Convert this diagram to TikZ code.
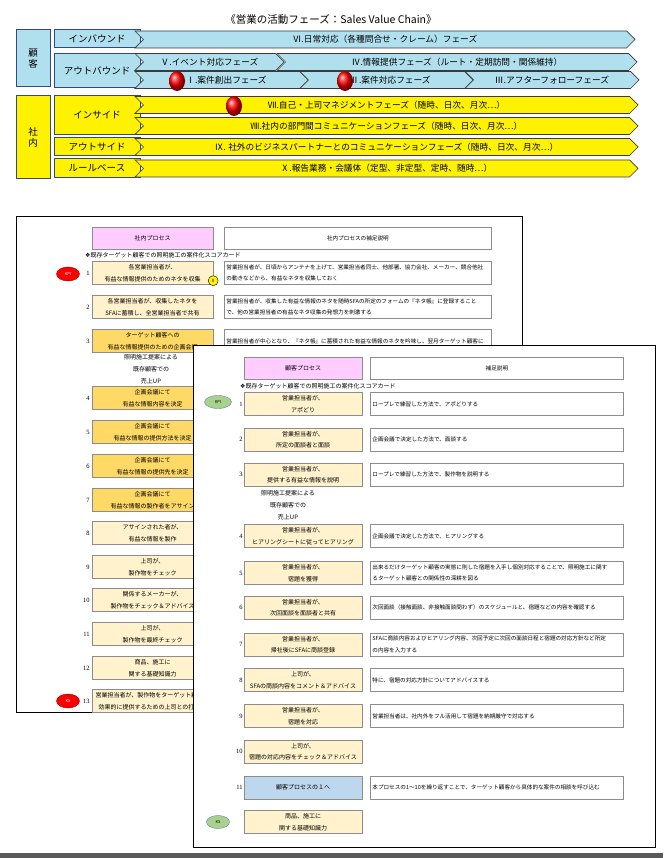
\documentclass[tikz,border=0pt]{standalone}
\usepackage{fontspec}
\setmainfont{Noto Sans CJK JP}
\newfontfamily\symfont{DejaVu Sans}
\newfontfamily\numfont{Liberation Serif}
\usepackage{tikz}
\usetikzlibrary{shapes.symbols, shapes.geometric, positioning, shadings}

\definecolor{skyfill}{HTML}{B0DFEE}
\definecolor{navyline}{HTML}{2E4A8C}
\definecolor{chevline}{HTML}{3A3A3A}
\definecolor{lightproc}{HTML}{FFF2CC}
\definecolor{orangeproc}{HTML}{FFD966}
\definecolor{pinkhead}{HTML}{FFCCFF}
\definecolor{blueproc}{HTML}{BDD7EE}
\definecolor{kpigreen}{HTML}{A9D18E}
\definecolor{boxline}{HTML}{8C8C8C}

\tikzset{
  lbl/.style={draw=navyline, line width=1pt, minimum width=86pt, inner sep=0pt, align=center, font=\fontsize{9.5}{11}\selectfont},
  chev/.style={signal, signal to=east, signal from=west, draw=chevline, line width=0.7pt, inner sep=0pt, anchor=west, minimum height=17pt, font=\fontsize{8.7}{10}\selectfont},
  redball/.style={ellipse, ball color=red, minimum width=16pt, minimum height=20pt, inner sep=0pt},
  proc/.style={draw=boxline, fill=lightproc, minimum width=120pt, minimum height=23pt, inner sep=0pt, align=center, font=\fontsize{6}{11.5}\selectfont},
  note/.style={draw=boxline, fill=white, minimum height=23pt, inner xsep=2pt, inner ysep=0pt, align=left, font=\fontsize{5.6}{11.5}\selectfont},
  num/.style={inner sep=0pt, font=\numfont\fontsize{6.5}{8}\selectfont},
  kpi/.style={ellipse, draw, inner sep=0pt, font=\fontsize{4}{5}\selectfont},
}

\begin{document}
\begin{tikzpicture}[x=1pt, y=-1pt]
\useasboundingbox (0,0) rectangle (663,858);

% title
\node[font=\fontsize{10.5}{12}\selectfont] (title) at (331,19) {《営業の活動フェーズ：Sales Value Chain》};

% customer side
\node[lbl, fill=skyfill, minimum width=34pt, minimum height=57pt] (kokyaku) at (33,58.5) {顧\\客};
\node[lbl, fill=skyfill, minimum height=18pt] (inbound) at (97,39) {インバウンド};
\node[lbl, fill=skyfill, minimum height=34pt] (outbound) at (97,70.5) {アウトバウンド};

\node[chev, fill=skyfill, minimum width=500pt] (ph6) at (143,39.5) {Ⅵ.日常対応（各種問合せ・クレーム）フェーズ};
\node[chev, fill=skyfill, minimum width=149pt] (ph5) at (143,62) {Ⅴ.イベント対応フェーズ};
\node[chev, fill=skyfill, minimum width=360pt] (ph4) at (285,62) {Ⅳ.情報提供フェーズ（ルート・定期訪問・関係維持）};
\node[chev, fill=skyfill, minimum width=173pt] (ph1) at (143,80) {\hspace*{10pt}Ⅰ.案件創出フェーズ};
\node[chev, fill=skyfill, minimum width=173pt] (ph2) at (308,80) {\hspace*{8pt}Ⅱ.案件対応フェーズ};
\node[chev, fill=skyfill, minimum width=174pt] (ph3) at (473,80) {Ⅲ.アフターフォローフェーズ};
\node[redball] (ball1) at (177,81) {};
\node[redball] (ball2) at (345,81) {};

% internal side
\node[lbl, fill=yellow, minimum width=34pt, minimum height=83pt] (shanai) at (33,137) {社\\内};
\node[lbl, fill=yellow, minimum height=39pt] (inside) at (97,115.5) {インサイド};
\node[lbl, fill=yellow, minimum height=18pt] (outside) at (97,147) {アウトサイド};
\node[lbl, fill=yellow, minimum height=19pt] (rules) at (97,168.5) {ルールベース};

\node[chev, fill=yellow, minimum width=503pt] (ph7) at (143,105) {Ⅶ.自己・上司マネジメントフェーズ（随時、日次、月次…）};
\node[chev, fill=yellow, minimum width=503pt] (ph8) at (143,126) {Ⅷ.社内の部門間コミュニケーションフェーズ（随時、日次、月次…）};
\node[chev, fill=yellow, minimum width=503pt] (ph9) at (143,147) {Ⅸ. 社外のビジネスパートナーとのコミュニケーションフェーズ（随時、日次、月次…）};
\node[chev, fill=yellow, minimum width=503pt] (ph10) at (143,168.5) {Ⅹ.報告業務・会議体（定型、非定型、定時、随時…）};
\node[redball] (ball3) at (234,106) {};

% internal process sheet
\draw[line width=0.8pt, fill=white] (16,216) rectangle (522,712);
\node[proc, fill=pinkhead, minimum width=121pt, minimum height=22pt] (lhead) at (152.5,238.5) {社内プロセス};
\node[note, minimum width=267pt, minimum height=22pt, align=center, right=11pt of lhead] (lheadnote) {社内プロセスの補足説明};
\node[anchor=west, inner sep=0pt, font=\fontsize{6}{8}\selectfont] (lcap) at (85,255) {{\symfont ❖}既存ターゲット顧客での照明施工の案件化スコアカード};

\node[proc, minimum width=121pt] (lp1) at (152.5,273) {各営業担当者が、\\有益な情報提供のためのネタを収集};
\node[proc, minimum width=121pt] (lp2) at (152.5,307) {各営業担当者が、収集したネタを\\SFAに蓄積し、全営業担当者で共有};
\node[proc, minimum width=121pt, fill=orangeproc] (lp3) at (152.5,341) {ターゲット顧客への\\有益な情報提供のための企画会議};
\node[note, minimum width=267pt, text width=263pt, right=11pt of lp1] (ln1) {営業担当者が、日頃からアンテナを上げて、営業担当者同士、他部署、協力会社、メーカー、競合他社\\の動きなどから、有益なネタを収集しておく};
\node[note, minimum width=267pt, text width=263pt, right=11pt of lp2] (ln2) {営業担当者が、収集した有益な情報のネタを随時SFAの所定のフォームの『ネタ帳』に登録すること\\で、他の営業担当者の有益なネタ収集の発想力を刺激する};
\node[note, minimum width=267pt, text width=263pt, right=11pt of lp3] (ln3) {営業担当者が中心となり、『ネタ帳』に蓄積された有益な情報のネタを吟味し、翌月ターゲット顧客に\\};
\node[circle, draw, fill=yellow, minimum size=10pt, inner sep=0pt, font=\fontsize{4.5}{5}\selectfont] (zero) at ([yshift=4pt]lp1.south east) {0};
\node[align=center, font=\fontsize{6}{12}\selectfont] (lgoal) at (151,369.5) {照明施工提案による\\既存顧客での\\売上UP};

\foreach \n/\y/\f/\txt in {4/398/orangeproc/{企画会議にて\\有益な情報内容を決定},
    5/432/orangeproc/{企画会議にて\\有益な情報の提供方法を決定},
    6/466/orangeproc/{企画会議にて\\有益な情報の提供先を決定},
    7/500/orangeproc/{企画会議にて\\有益な情報の製作者をアサイン},
    8/533/lightproc/{アサインされた者が、\\有益な情報を製作},
    9/567/lightproc/{上司が、\\製作物をチェック},
    10/600/lightproc/{関係するメーカーが、\\製作物をチェック＆アドバイス},
    11/634/lightproc/{上司が、\\製作物を最終チェック},
    12/668/lightproc/{商品、施工に\\関する基礎知識力},
    13/701/lightproc/{営業担当者が、製作物をターゲット顧客に\\効果的に提供するための上司との打合せ}} {
  \node[proc, minimum width=121pt, fill=\f] (lp\n) at (152.5,\y) {\txt};
}
\foreach \n in {1,...,13}
  \node[num, left=2pt of lp\n] (lnum\n) {\n};
\node[kpi, fill=red, draw=red!60!black, minimum width=23pt, minimum height=14pt, text=white] (lkpi) at (68,274) {KPI};
\node[kpi, fill=red, draw=red!60!black, minimum width=23pt, minimum height=14pt, text=white] (lks) at (68,701) {KS};

% customer process sheet
\draw[line width=0.8pt, fill=white] (193,345) rectangle (655,847);
\node[proc, fill=pinkhead, minimum width=118pt, minimum height=22pt] (rhead) at (303,368) {顧客プロセス};
\node[note, minimum width=253pt, minimum height=22pt, align=center, right=8pt of rhead] (rheadnote) {補足説明};
\node[anchor=west, inner sep=0pt, font=\fontsize{6}{8}\selectfont] (rcap) at (240,386) {{\symfont ❖}既存ターゲット顧客での照明施工の案件化スコアカード};

\foreach \n/\y/\txt/\desc in {1/404/{営業担当者が、\\アポどり}/{ロープレで練習した方法で、アポどりする},
    2/439.5/{営業担当者が、\\所定の面談者と面談}/{企画会議で決定した方法で、面談する},
    3/474.5/{営業担当者が、\\提供する有益な情報を説明}/{ロープレで練習した方法で、製作物を説明する},
    4/536/{営業担当者が、\\ヒアリングシートに従ってヒアリング}/{企画会議で決定した方法で、ヒアリングする},
    5/573/{営業担当者が、\\宿題を獲得}/{出来るだけターゲット顧客の実態に則した宿題を入手し個別対応することで、照明施工に関す\\るターゲット顧客との関係性の深耕を図る},
    6/607.5/{営業担当者が、\\次回面談を面談者と共有}/{次回面談（接触面談、非接触面談問わず）のスケジュールと、宿題などの内容を確認する},
    7/644.5/{営業担当者が、\\帰社後にSFAに商談登録}/{SFAに商談内容およびヒアリング内容、次回予定に次回の面談日程と宿題の対応方針など所定\\の内容を入力する},
    8/680/{上司が、\\SFAの商談内容をコメント＆アドバイス}/{特に、宿題の対応方針についてアドバイスする},
    9/716/{営業担当者が、\\宿題を対応}/{営業担当者は、社内外をフル活用して宿題を納期厳守で対応する}} {
  \node[proc, minimum width=118pt] (rp\n) at (303,\y) {\txt};
  \node[note, minimum width=253pt, text width=249pt, right=8pt of rp\n] (rn\n) {\desc};
}
\node[proc, minimum width=118pt] (rp10) at (303,751.5) {上司が、\\宿題の対応内容をチェック＆アドバイス};
\node[proc, minimum width=118pt, fill=blueproc] (rp11) at (303,787.5) {顧客プロセスの１へ};
\node[note, minimum width=253pt, text width=249pt, right=8pt of rp11] (rn11) {本プロセスの1～10を繰り返すことで、ターゲット顧客から具体的な案件の相談を呼び込む};
\node[proc, minimum width=118pt] (rp12) at (303,822) {商品、施工に\\関する基礎知識力};
\foreach \n in {1,...,11}
  \node[num, left=1pt of rp\n] (rnum\n) {\n};
\node[align=center, font=\fontsize{6}{12}\selectfont] (rgoal) at (288,505) {照明施工提案による\\既存顧客での\\売上UP};
\node[kpi, fill=kpigreen, draw=navyline!70, minimum width=27pt, minimum height=13pt] (rkpi) at (218,402) {KPI};
\node[kpi, fill=kpigreen, draw=navyline!70, minimum width=23pt, minimum height=13pt] (rks) at (218,822) {KS};

% bottom edge
\fill[gray!70!black] (0,853) rectangle (663,858);
\end{tikzpicture}
\end{document}
